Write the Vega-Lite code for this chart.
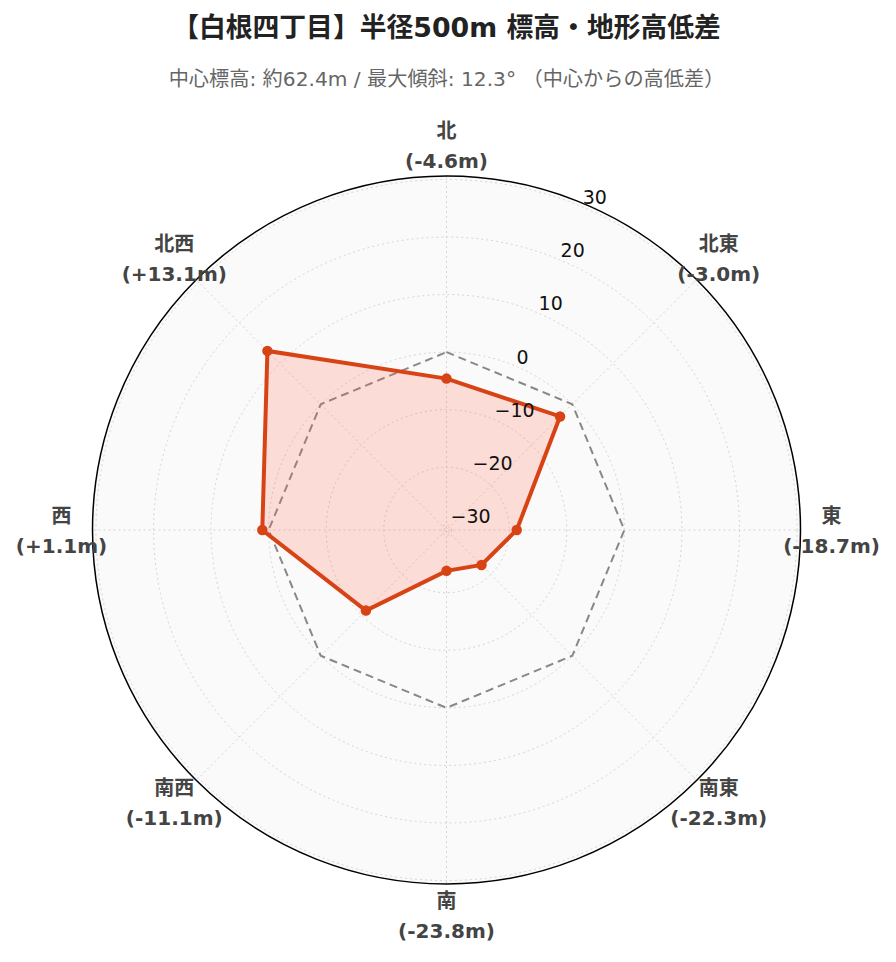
{
  "$schema": "https://vega.github.io/schema/vega-lite/v6.json",
  "width": 708,
  "height": 708,
  "autosize": {"type": "none"},
  "padding": {"left": 92.5, "top": 176, "right": 95.5, "bottom": 78},
  "background": "white",
  "config": {"view": {"stroke": null}},
  "title": {
    "text": "【白根四丁目】半径500m 標高・地形高低差",
    "subtitle": "中心標高: 約62.4m / 最大傾斜: 12.3° （中心からの高低差）",
    "anchor": "middle",
    "font": "DejaVu Sans, Noto Sans CJK JP",
    "fontSize": 26.8,
    "fontWeight": "bold",
    "color": "#222222",
    "subtitleFont": "DejaVu Sans, Noto Sans CJK JP",
    "subtitleFontSize": 20.2,
    "subtitleColor": "#666666",
    "subtitlePadding": 27,
    "offset": 32
  },
  "datasets": {
    "dirs": [
      {"dir": "北", "ang": 0, "diff": -4.6},
      {"dir": "北東", "ang": 45, "diff": -3.0},
      {"dir": "東", "ang": 90, "diff": -18.7},
      {"dir": "南東", "ang": 135, "diff": -22.3},
      {"dir": "南", "ang": 180, "diff": -23.8},
      {"dir": "南西", "ang": 225, "diff": -11.1},
      {"dir": "西", "ang": 270, "diff": 1.1},
      {"dir": "北西", "ang": 315, "diff": 13.1}
    ],
    "ticks": [
      {"v": -30}, {"v": -20}, {"v": -10}, {"v": 0}, {"v": 10}, {"v": 20}, {"v": 30}
    ]
  },
  "layer": [
    {
      "data": {"name": "ticks"},
      "transform": [{"filter": "datum.v == 30"}, {"calculate": "0", "as": "c"}, {"calculate": "61.5", "as": "d"}],
      "mark": {"type": "point", "shape": "circle", "filled": true, "fill": "#fafafa", "opacity": 1, "strokeWidth": 0},
      "encoding": {
        "x": {"field": "c", "type": "quantitative", "scale": {"domain": [-61.5, 61.5], "nice": false, "zero": false}, "axis": null},
        "y": {"field": "c", "type": "quantitative", "scale": {"domain": [-61.5, 61.5], "nice": false, "zero": false}, "axis": null},
        "size": {"field": "d", "type": "quantitative", "scale": {"type": "pow", "exponent": 2, "domain": [0, 61.5], "range": [0, 501264], "zero": true, "nice": false}, "legend": null}
      }
    },
    {
      "data": {"name": "ticks"},
      "transform": [{"calculate": "datum.v + 30.9", "as": "d"}, {"calculate": "0", "as": "c"}],
      "mark": {"type": "point", "shape": "circle", "filled": false, "stroke": "#d4d4d4", "strokeWidth": 1, "strokeDash": [2, 3], "opacity": 1},
      "encoding": {
        "x": {"field": "c", "type": "quantitative", "scale": {"domain": [-61.5, 61.5], "nice": false, "zero": false}, "axis": null},
        "y": {"field": "c", "type": "quantitative", "scale": {"domain": [-61.5, 61.5], "nice": false, "zero": false}, "axis": null},
        "size": {"field": "d", "type": "quantitative", "scale": {"type": "pow", "exponent": 2, "domain": [0, 61.5], "range": [0, 501264], "zero": true, "nice": false}, "legend": null}
      }
    },
    {
      "data": {"name": "dirs"},
      "transform": [
        {"filter": "datum.ang < 180"},
        {"calculate": "61.5*sin(datum.ang*PI/180)", "as": "sx"},
        {"calculate": "61.5*cos(datum.ang*PI/180)", "as": "sy"},
        {"calculate": "-datum.sx", "as": "ex"},
        {"calculate": "-datum.sy", "as": "ey"}
      ],
      "mark": {"type": "rule", "stroke": "#d4d4d4", "strokeWidth": 1, "strokeDash": [2, 3]},
      "encoding": {
        "x": {"field": "sx", "type": "quantitative", "scale": {"domain": [-61.5, 61.5], "nice": false, "zero": false}, "axis": null},
        "y": {"field": "sy", "type": "quantitative", "scale": {"domain": [-61.5, 61.5], "nice": false, "zero": false}, "axis": null},
        "x2": {"field": "ex"},
        "y2": {"field": "ey"}
      }
    },
    {
      "data": {"name": "dirs"},
      "transform": [
        {"calculate": "30.9*sin(datum.ang*PI/180)", "as": "rx"},
        {"calculate": "30.9*cos(datum.ang*PI/180)", "as": "ry"}
      ],
      "mark": {"type": "line", "interpolate": "linear-closed", "stroke": "#888888", "strokeWidth": 2, "strokeDash": [8, 5]},
      "encoding": {
        "x": {"field": "rx", "type": "quantitative", "scale": {"domain": [-61.5, 61.5], "nice": false, "zero": false}, "axis": null},
        "y": {"field": "ry", "type": "quantitative", "scale": {"domain": [-61.5, 61.5], "nice": false, "zero": false}, "axis": null},
        "order": {"field": "ang", "type": "quantitative"}
      }
    },
    {
      "data": {"name": "dirs"},
      "transform": [
        {"calculate": "(datum.diff+30.9)*sin(datum.ang*PI/180)", "as": "px"},
        {"calculate": "(datum.diff+30.9)*cos(datum.ang*PI/180)", "as": "py"}
      ],
      "mark": {"type": "line", "interpolate": "linear-closed", "stroke": "#d84315", "strokeWidth": 4, "fill": "#ff6347", "fillOpacity": 0.2, "strokeJoin": "miter"},
      "encoding": {
        "x": {"field": "px", "type": "quantitative", "scale": {"domain": [-61.5, 61.5], "nice": false, "zero": false}, "axis": null},
        "y": {"field": "py", "type": "quantitative", "scale": {"domain": [-61.5, 61.5], "nice": false, "zero": false}, "axis": null},
        "order": {"field": "ang", "type": "quantitative"}
      }
    },
    {
      "data": {"name": "dirs"},
      "transform": [
        {"calculate": "(datum.diff+30.9)*sin(datum.ang*PI/180)", "as": "px"},
        {"calculate": "(datum.diff+30.9)*cos(datum.ang*PI/180)", "as": "py"}
      ],
      "mark": {"type": "point", "shape": "circle", "filled": true, "size": 110, "color": "#d84315", "opacity": 1},
      "encoding": {
        "x": {"field": "px", "type": "quantitative", "scale": {"domain": [-61.5, 61.5], "nice": false, "zero": false}, "axis": null},
        "y": {"field": "py", "type": "quantitative", "scale": {"domain": [-61.5, 61.5], "nice": false, "zero": false}, "axis": null}
      }
    },
    {
      "data": {"name": "ticks"},
      "transform": [{"filter": "datum.v == 30"}, {"calculate": "0", "as": "c"}, {"calculate": "61.5", "as": "d"}],
      "mark": {"type": "point", "shape": "circle", "filled": false, "stroke": "#000000", "strokeWidth": 1.5, "opacity": 1},
      "encoding": {
        "x": {"field": "c", "type": "quantitative", "scale": {"domain": [-61.5, 61.5], "nice": false, "zero": false}, "axis": null},
        "y": {"field": "c", "type": "quantitative", "scale": {"domain": [-61.5, 61.5], "nice": false, "zero": false}, "axis": null},
        "size": {"field": "d", "type": "quantitative", "scale": {"type": "pow", "exponent": 2, "domain": [0, 61.5], "range": [0, 501264], "zero": true, "nice": false}, "legend": null}
      }
    },
    {
      "data": {"name": "ticks"},
      "transform": [
        {"calculate": "(datum.v+30.9)*0.3826834", "as": "tx"},
        {"calculate": "(datum.v+30.9)*0.9238795", "as": "ty"}
      ],
      "mark": {"type": "text", "align": "left", "baseline": "middle", "dx": 2, "dy": -8, "font": "DejaVu Sans", "fontSize": 19, "fill": "#111111"},
      "encoding": {
        "x": {"field": "tx", "type": "quantitative", "scale": {"domain": [-61.5, 61.5], "nice": false, "zero": false}, "axis": null},
        "y": {"field": "ty", "type": "quantitative", "scale": {"domain": [-61.5, 61.5], "nice": false, "zero": false}, "axis": null},
        "text": {"field": "v", "type": "quantitative", "format": "d"}
      }
    },
    {
      "data": {"name": "dirs"},
      "transform": [
        {"calculate": "datum.dir + '\\n(' + (datum.diff > 0 ? '+' : '') + replace(format(datum.diff, '.1f'), '−', '-') + 'm)'", "as": "label"},
        {"calculate": "66.89*sin(datum.ang*PI/180)", "as": "lx"},
        {"calculate": "66.89*cos(datum.ang*PI/180)", "as": "ly"}
      ],
      "mark": {"type": "text", "align": "center", "baseline": "middle", "dy": -13, "lineBreak": "\n", "lineHeight": 30, "font": "DejaVu Sans, Noto Sans CJK JP", "fontWeight": "bold", "fontSize": 20, "fill": "#444444"},
      "encoding": {
        "x": {"field": "lx", "type": "quantitative", "scale": {"domain": [-61.5, 61.5], "nice": false, "zero": false}, "axis": null},
        "y": {"field": "ly", "type": "quantitative", "scale": {"domain": [-61.5, 61.5], "nice": false, "zero": false}, "axis": null},
        "text": {"field": "label", "type": "nominal"}
      }
    }
  ]
}
